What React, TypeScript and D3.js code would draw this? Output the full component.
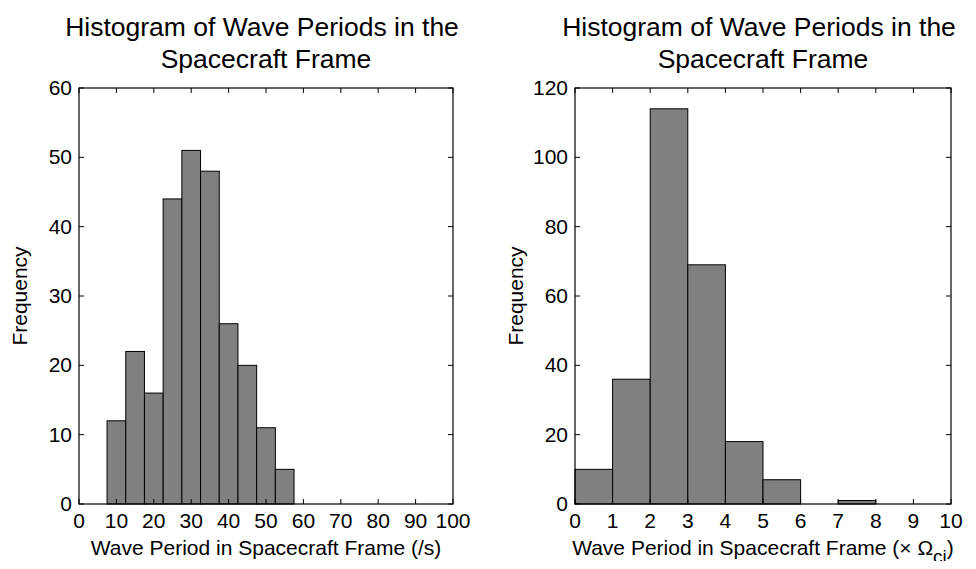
import React from 'react';
import * as d3 from 'd3';

const leftEdges = [7.5, 12.5, 17.5, 22.5, 27.5, 32.5, 37.5, 42.5, 47.5, 52.5, 57.5];
const leftCounts = [12, 22, 16, 44, 51, 48, 26, 20, 11, 5];
const leftXTicks = [0, 10, 20, 30, 40, 50, 60, 70, 80, 90, 100];
const leftYTicks = [0, 10, 20, 30, 40, 50, 60];

const rightEdges = [0, 1, 2, 3, 4, 5, 6, 7, 8, 9, 10];
const rightCounts = [10, 36, 114, 69, 18, 7, 0, 1, 0, 0];
const rightXTicks = [0, 1, 2, 3, 4, 5, 6, 7, 8, 9, 10];
const rightYTicks = [0, 20, 40, 60, 80, 100, 120];

const FONT = 'Liberation Sans, Arial, sans-serif';
const TOP = 88;
const BOTTOM = 504;

interface PanelProps {
  left: number;
  right: number;
  edges: number[];
  counts: number[];
  xTicks: number[];
  yTicks: number[];
  xLabel: React.ReactNode;
}

const Panel: React.FC<PanelProps> = ({ left, right, edges, counts, xTicks, yTicks, xLabel }) => {
  const x = d3.scaleLinear().domain([xTicks[0], xTicks[xTicks.length - 1]]).range([left, right]);
  const y = d3.scaleLinear().domain([0, yTicks[yTicks.length - 1]]).range([BOTTOM, TOP]);
  const cx = (left + right) / 2;
  return (
    <g fontFamily={FONT} fill="#000">
      <text x={cx - 4} y={36} textAnchor="middle" fontSize={26.5}>Histogram of Wave Periods in the</text>
      <text x={cx} y={68} textAnchor="middle" fontSize={26.5}>Spacecraft Frame</text>
      {counts.map((c, i) => (
        <rect key={i} x={x(edges[i])} y={y(c)} width={x(edges[i + 1]) - x(edges[i])}
          height={BOTTOM - y(c)} fill="#808080" stroke="#000" strokeWidth={1} />
      ))}
      <rect x={left} y={TOP} width={right - left} height={BOTTOM - TOP} fill="none" stroke="#000" strokeWidth={1.2} />
      {xTicks.map(t => (
        <g key={t}>
          <line x1={x(t)} x2={x(t)} y1={BOTTOM} y2={BOTTOM - 5} stroke="#000" />
          <line x1={x(t)} x2={x(t)} y1={TOP} y2={TOP + 5} stroke="#000" />
          <text x={x(t)} y={BOTTOM + 24} textAnchor="middle" fontSize={21}>{t}</text>
        </g>
      ))}
      {yTicks.map(t => (
        <g key={t}>
          <line x1={left} x2={left + 5} y1={y(t)} y2={y(t)} stroke="#000" />
          <line x1={right} x2={right - 5} y1={y(t)} y2={y(t)} stroke="#000" />
          <text x={left - 7} y={y(t) + 7} textAnchor="end" fontSize={21}>{t}</text>
        </g>
      ))}
      <text x={cx} y={BOTTOM + 51} textAnchor="middle" fontSize={21}>{xLabel}</text>
      <text transform={`translate(${left - 52},${(TOP + BOTTOM) / 2}) rotate(-90)`} textAnchor="middle" fontSize={21}>Frequency</text>
    </g>
  );
};

export default function App() {
  return (
    <svg width={976} height={569} style={{ display: 'block', margin: -8 }}>
      <rect width={976} height={569} fill="#fff" />
      <Panel left={79} right={453} edges={leftEdges} counts={leftCounts} xTicks={leftXTicks}
        yTicks={leftYTicks} xLabel="Wave Period in Spacecraft Frame (/s)" />
      <Panel left={575} right={951} edges={rightEdges} counts={rightCounts} xTicks={rightXTicks}
        yTicks={rightYTicks}
        xLabel={<>Wave Period in Spacecraft Frame (× Ω<tspan dy={8} fontSize={19}>ci</tspan><tspan dy={-8}>)</tspan></>} />
    </svg>
  );
}
